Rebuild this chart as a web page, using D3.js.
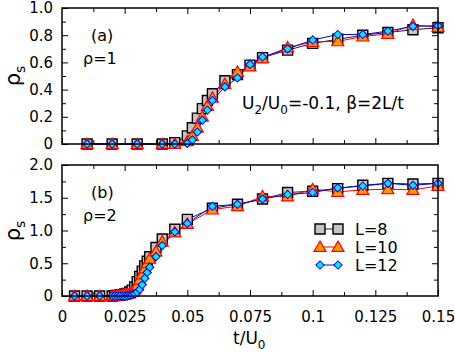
<!DOCTYPE html>
<html>
<head>
<meta charset="utf-8">
<script src="https://cdn.jsdelivr.net/npm/d3@7"></script>
<style>
  body { margin: 0; background: #fff; }
  svg text { font-family: "DejaVu Sans", sans-serif; fill: #000; }
</style>
</head>
<body>
<svg id="chart" width="455" height="354"></svg>
<script>
// panel (a), rho = 1
const tA = [0.01, 0.02, 0.03, 0.04, 0.045, 0.05, 0.052, 0.054, 0.056, 0.058, 0.06, 0.065, 0.07, 0.075, 0.08, 0.09, 0.1, 0.11, 0.12, 0.13, 0.14, 0.15];
const aL8 = [0, 0, 0, 0, 0.01, 0.06, 0.12, 0.19, 0.26, 0.32, 0.37, 0.465, 0.51, 0.58, 0.635, 0.69, 0.74, 0.77, 0.80, 0.82, 0.84, 0.855];
const aL10 = [0, 0, 0, 0, 0, 0.02, 0.06, 0.12, 0.2, 0.28, 0.34, 0.44, 0.53, 0.57, 0.63, 0.71, 0.75, 0.755, 0.79, 0.81, 0.875, 0.86];
const aL12 = [0, 0, 0, 0, 0, 0.005, 0.03, 0.088, 0.175, 0.25, 0.32, 0.42, 0.485, 0.585, 0.64, 0.70, 0.765, 0.805, 0.805, 0.83, 0.865, 0.87];

// panel (b), rho = 2
const tB = [0.005, 0.01, 0.015, 0.02, 0.021, 0.022, 0.023, 0.024, 0.025, 0.026, 0.027, 0.028, 0.029, 0.03, 0.031, 0.032, 0.033, 0.034, 0.035, 0.0375, 0.04, 0.045, 0.05, 0.06, 0.07, 0.08, 0.09, 0.1, 0.11, 0.12, 0.13, 0.14, 0.15];
const bL8 = [0, 0, 0, 0, 0.005, 0.01, 0.015, 0.02, 0.03, 0.04, 0.06, 0.09, 0.14, 0.22, 0.3, 0.38, 0.46, 0.53, 0.6, 0.74, 0.87, 1.02, 1.17, 1.34, 1.40, 1.48, 1.58, 1.60, 1.64, 1.69, 1.72, 1.71, 1.72];
const bL10 = [0, 0, 0, 0, 0.005, 0.008, 0.012, 0.016, 0.02, 0.03, 0.04, 0.06, 0.1, 0.16, 0.25, 0.33, 0.42, 0.5, 0.57, 0.68, 0.83, 0.97, 1.10, 1.32, 1.37, 1.52, 1.52, 1.63, 1.59, 1.62, 1.63, 1.62, 1.68];
const bL12 = [0, 0, 0, 0, 0, 0, 0, 0, 0, 0.005, 0.01, 0.02, 0.035, 0.06, 0.1, 0.17, 0.27, 0.36, 0.44, 0.6, 0.77, 0.98, 1.11, 1.37, 1.40, 1.48, 1.55, 1.58, 1.65, 1.68, 1.72, 1.69, 1.72];

const xTicks = [0, 0.025, 0.05, 0.075, 0.1, 0.125, 0.15];
const xMinor = [0.0125, 0.0375, 0.0625, 0.0875, 0.1125, 0.1375];
const legendLabels = ["L=8", "L=10", "L=12"];

const svg = d3.select("#chart");
const x = d3.scaleLinear().domain([0, 0.15]).range([62, 438]);

const styles = [
  { shape: "square", fill: "#c4c4c4", stroke: "#000", line: "#222", sw: 1.4 },
  { shape: "triangle", fill: "#ff9a00", stroke: "#ff0000", line: "#ff0000", sw: 1.2 },
  { shape: "diamond", fill: "#00e8ff", stroke: "#0000ff", line: "#0000ff", sw: 1 }
];

function symbolPath(shape) {
  if (shape === "square") return d3.symbol(d3.symbolSquare, 100)();
  if (shape === "triangle") return d3.symbol(d3.symbolTriangle, 62)();
  return d3.symbol(d3.symbolSquare, 34)();
}

function drawMarker(g, shape, cx, cy, st) {
  const rot = shape === "diamond" ? " rotate(45)" : "";
  const dy = shape === "triangle" ? 1 : 0;
  g.append("path")
    .attr("d", symbolPath(shape))
    .attr("transform", `translate(${cx},${cy + dy})${rot}`)
    .attr("fill", st.fill)
    .attr("stroke", st.stroke)
    .attr("stroke-width", st.sw);
}

function panel(opts) {
  const y = d3.scaleLinear().domain(opts.yDomain).range([opts.bottom, opts.top]);
  const g = svg.append("g");

  // ticks, all inward
  g.append("g").attr("transform", `translate(0,${opts.bottom})`)
    .call(d3.axisBottom(x).tickValues(xTicks).tickSize(-6).tickPadding(15)
      .tickFormat(d => opts.xLabels ? String(d) : ""));
  g.append("g").attr("transform", `translate(0,${opts.bottom})`)
    .call(d3.axisBottom(x).tickValues(xMinor).tickSize(-4).tickFormat(""));
  g.append("g").attr("transform", `translate(0,${opts.top})`)
    .call(d3.axisTop(x).tickValues(xTicks.slice(1, -1)).tickSize(-6).tickFormat(""));
  g.append("g").attr("transform", `translate(0,${opts.top})`)
    .call(d3.axisTop(x).tickValues(xMinor).tickSize(-4).tickFormat(""));

  g.append("g").attr("transform", `translate(${x(0)},0)`)
    .call(d3.axisLeft(y).tickValues(opts.yTicks).tickSize(-6).tickPadding(9)
      .tickFormat(d => d === 0 ? "0" : d.toFixed(1)));
  g.append("g").attr("transform", `translate(${x(0)},0)`)
    .call(d3.axisLeft(y).tickValues(opts.yMinor).tickSize(-4).tickFormat(""));
  g.append("g").attr("transform", `translate(${x(0.15)},0)`)
    .call(d3.axisRight(y).tickValues(opts.yTicks.slice(1, -1)).tickSize(-6).tickFormat(""));
  g.append("g").attr("transform", `translate(${x(0.15)},0)`)
    .call(d3.axisRight(y).tickValues(opts.yMinor).tickSize(-4).tickFormat(""));

  g.selectAll(".domain").remove();
  g.selectAll(".tick line").attr("stroke", "#000").attr("stroke-width", 1);
  g.selectAll(".tick text").attr("font-size", 15).attr("font-family", "DejaVu Sans, sans-serif");

  // series
  const plot = g.append("g");
  opts.series.forEach((vals, i) => {
    const st = styles[i];
    const pts = opts.t.map((t, j) => [x(t), y(vals[j])]);
    plot.append("path")
      .attr("d", d3.line()(pts))
      .attr("fill", "none")
      .attr("stroke", st.line)
      .attr("stroke-width", 1);
  });
  opts.series.forEach((vals, i) => {
    const st = styles[i];
    opts.t.forEach((t, j) => drawMarker(plot, st.shape, x(t), y(vals[j]), st));
  });

  g.append("rect")
    .attr("x", x(0)).attr("y", opts.top)
    .attr("width", x(0.15) - x(0)).attr("height", opts.bottom - opts.top)
    .attr("fill", "none").attr("stroke", "#000").attr("stroke-width", 1.5);

  // y label
  const yl = g.append("text")
    .attr("transform", `translate(20,${opts.labelY}) rotate(-90)`)
    .attr("text-anchor", "middle")
    .attr("font-size", 21);
  yl.append("tspan").text("ρ");
  yl.append("tspan").attr("font-size", 14).attr("dy", 5).text("s");

  g.append("text").attr("x", 91).attr("y", opts.top + 33).attr("font-size", 16).text(opts.tag);
  g.append("text").attr("x", 83).attr("y", opts.top + 56).attr("font-size", 16).text(opts.rho);
  return g;
}

panel({
  top: 8, bottom: 144, yDomain: [0, 1],
  yTicks: [0, 0.2, 0.4, 0.6, 0.8, 1.0], yMinor: [0.1, 0.3, 0.5, 0.7, 0.9],
  t: tA, series: [aL8, aL10, aL12], xLabels: false,
  labelY: 76, tag: "(a)", rho: "ρ=1"
});

panel({
  top: 165, bottom: 296, yDomain: [0, 2],
  yTicks: [0, 0.5, 1.0, 1.5, 2.0], yMinor: [0.25, 0.75, 1.25, 1.75],
  t: tB, series: [bL8, bL10, bL12], xLabels: true,
  labelY: 231, tag: "(b)", rho: "ρ=2"
});

// annotation in panel (a)
const ann = svg.append("text").attr("x", 242).attr("y", 109).attr("font-size", 17);
ann.append("tspan").text("U");
ann.append("tspan").attr("font-size", 12).attr("dy", 5).text("2");
ann.append("tspan").attr("dy", -5).text("/U");
ann.append("tspan").attr("font-size", 12).attr("dy", 5).text("0");
ann.append("tspan").attr("dy", -5).text("=-0.1, β=2L/t");

// x label
const xl = svg.append("text").attr("x", 233).attr("y", 344).attr("font-size", 17);
xl.append("tspan").text("t/U");
xl.append("tspan").attr("font-size", 12).attr("dy", 5).text("0");

// legend
const leg = svg.append("g");
legendLabels.forEach((lab, i) => {
  const st = styles[i];
  const ly = 229 + i * 18;
  leg.append("line").attr("x1", 320).attr("x2", 338).attr("y1", ly).attr("y2", ly)
    .attr("stroke", st.line).attr("stroke-width", 1);
  drawMarker(leg, st.shape, 320, ly, st);
  drawMarker(leg, st.shape, 338, ly, st);
  leg.append("text").attr("x", 355).attr("y", ly + 6).attr("font-size", 16).text(lab);
});
</script>
</body>
</html>
